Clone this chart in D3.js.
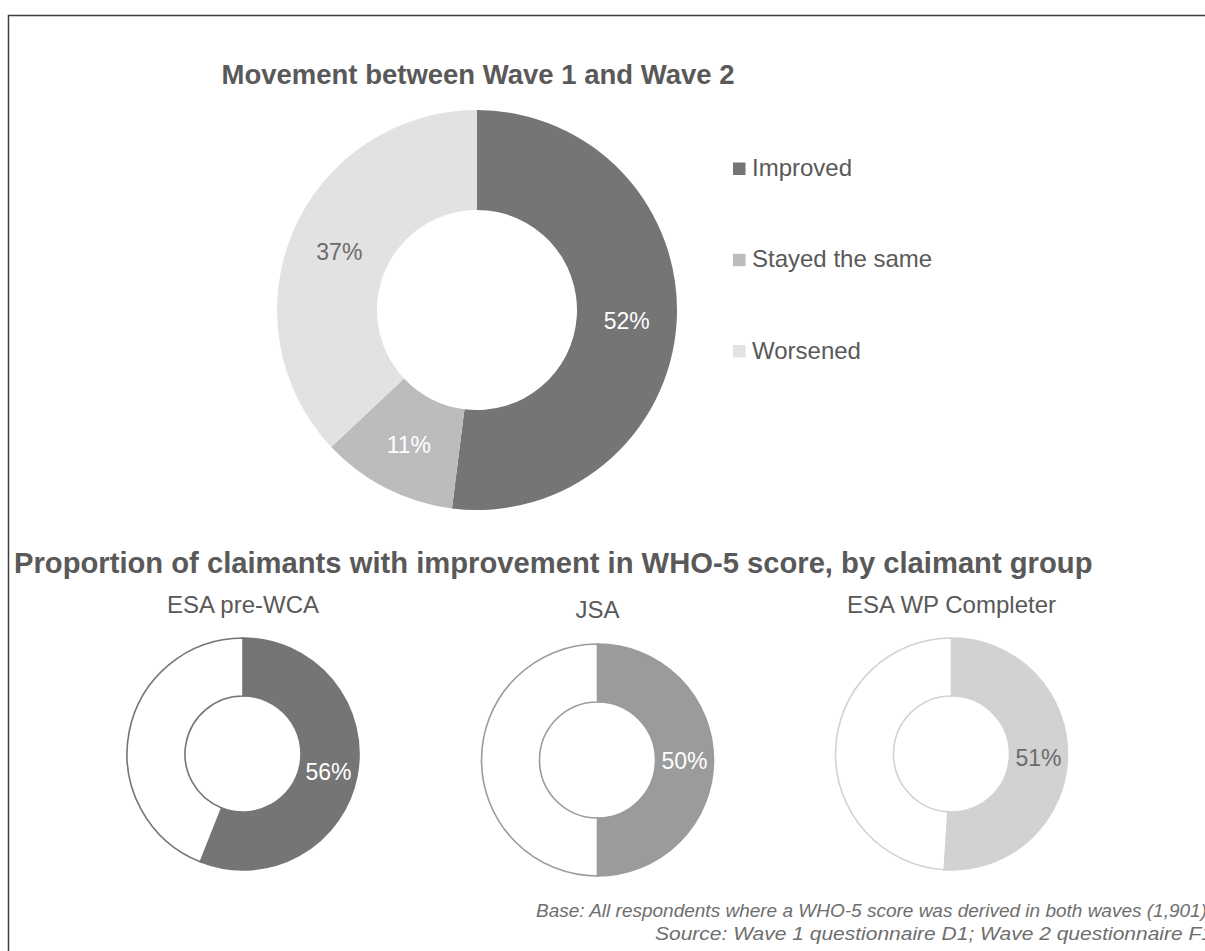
<!DOCTYPE html>
<html>
<head>
<meta charset="utf-8">
<script src="https://cdn.jsdelivr.net/npm/d3@7"></script>
<style>
  html, body { margin: 0; padding: 0; background: #fff; }
  svg { display: block; font-family: "Liberation Sans", Arial, sans-serif; }
</style>
</head>
<body>
<svg id="chart" width="1205" height="951"></svg>
<script>
// ---- data ----
const movementTitle = "Movement between Wave 1 and Wave 2";
const movementCategories = ["Improved", "Stayed the same", "Worsened"];
const movementValues = [52, 11, 37];
const groupTitle = "Proportion of claimants with improvement in WHO-5 score, by claimant group";
const groupNames = ["ESA pre-WCA", "JSA", "ESA WP Completer"];
const groupImproved = [56, 50, 51];
const footnotes = [
  "Base: All respondents where a WHO-5 score was derived in both waves (1,901)",
  "Source: Wave 1 questionnaire D1; Wave 2 questionnaire F1"
];

// ---- styles ----
const textColor = "#595959";
const movementColors = ["#757575", "#bbbcbe", "#e2e2e2"];
const movementLabelColors = ["#ffffff", "#ffffff", "#6b6b6b"];
const groupColors = ["#757575", "#9b9b9b", "#d1d2d1"];
const groupLabelColors = ["#ffffff", "#ffffff", "#6b6b6b"];

const svg = d3.select("#chart");

function fitWidth(sel, target) {
  const node = sel.node();
  let size = parseFloat(sel.attr("font-size"));
  const w = node.getComputedTextLength();
  if (w > 0) sel.attr("font-size", (size * target / w).toFixed(2));
}

// frame
svg.append("rect")
  .attr("x", 8.5).attr("y", 15.5)
  .attr("width", 1230).attr("height", 960)
  .attr("fill", "none").attr("stroke", "#3f3f3f").attr("stroke-width", 1.5);

// ---- top donut ----
const topPie = { cx: 477, cy: 310, R: 200, r: 100 };
const pie = d3.pie().sort(null).value(d => d);
const topArcs = pie(movementValues);
const arcTop = d3.arc().innerRadius(topPie.r).outerRadius(topPie.R);
const gTop = svg.append("g").attr("transform", `translate(${topPie.cx},${topPie.cy})`);
gTop.selectAll("path").data(topArcs).join("path")
  .attr("d", arcTop)
  .attr("fill", (d, i) => movementColors[i]);
gTop.selectAll("text").data(topArcs).join("text")
  .attr("transform", d => `translate(${arcTop.centroid(d)})`)
  .attr("text-anchor", "middle")
  .attr("dy", "0.4em")
  .attr("font-size", 23)
  .attr("fill", (d, i) => movementLabelColors[i])
  .text(d => d.value + "%");

const t1 = svg.append("text")
  .attr("x", 478).attr("y", 84)
  .attr("text-anchor", "middle")
  .attr("font-size", 27).attr("font-weight", "bold")
  .attr("fill", textColor)
  .text(movementTitle);
fitWidth(t1, 513);

// legend
const legendY = d3.scalePoint().domain(movementCategories).range([168.5, 351]);
const leg = svg.append("g");
movementCategories.forEach((c, i) => {
  const y = legendY(c);
  leg.append("rect")
    .attr("x", 733).attr("y", y - 6)
    .attr("width", 12.5).attr("height", 12.5)
    .attr("fill", movementColors[i]);
  leg.append("text")
    .attr("x", 752).attr("y", y + 7.5)
    .attr("font-size", 24)
    .attr("fill", textColor)
    .text(c);
});

// ---- bottom section ----
const t2 = svg.append("text")
  .attr("x", 14).attr("y", 573)
  .attr("font-size", 26).attr("font-weight", "bold")
  .attr("fill", textColor)
  .text(groupTitle);
fitWidth(t2, 1079);

const small = [
  { cx: 243, cy: 754, ty: 613 },
  { cx: 597.5, cy: 760, ty: 618 },
  { cx: 951.5, cy: 754, ty: 613 }
];
const Rs = 116, rs = 58;
const arcSmall = d3.arc().innerRadius(rs).outerRadius(Rs);

groupNames.forEach((name, i) => {
  const s = small[i];
  const g = svg.append("g").attr("transform", `translate(${s.cx},${s.cy})`);
  const arcs = pie([groupImproved[i], 100 - groupImproved[i]]);
  g.selectAll("path").data(arcs).join("path")
    .attr("d", arcSmall)
    .attr("fill", (d, j) => j === 0 ? groupColors[i] : "#ffffff")
    .attr("stroke", groupColors[i])
    .attr("stroke-width", 1.6);
  g.append("text")
    .attr("transform", `translate(${arcSmall.centroid(arcs[0])})`)
    .attr("text-anchor", "middle")
    .attr("dy", "0.4em")
    .attr("font-size", 23)
    .attr("fill", groupLabelColors[i])
    .text(groupImproved[i] + "%");
  svg.append("text")
    .attr("x", s.cx).attr("y", s.ty)
    .attr("text-anchor", "middle")
    .attr("font-size", 24)
    .attr("fill", textColor)
    .text(name);
});

// footnotes
const footLayout = [
  { x: 536, y: 917, w: 671 },
  { x: 655, y: 940, w: 558 }
];
footnotes.forEach((t, i) => {
  svg.append("text")
    .attr("x", footLayout[i].x).attr("y", footLayout[i].y)
    .attr("font-size", 18.5).attr("font-style", "italic")
    .attr("textLength", footLayout[i].w)
    .attr("lengthAdjust", "spacingAndGlyphs")
    .attr("fill", "#6e6e6e")
    .text(t);
});
</script>
</body>
</html>
